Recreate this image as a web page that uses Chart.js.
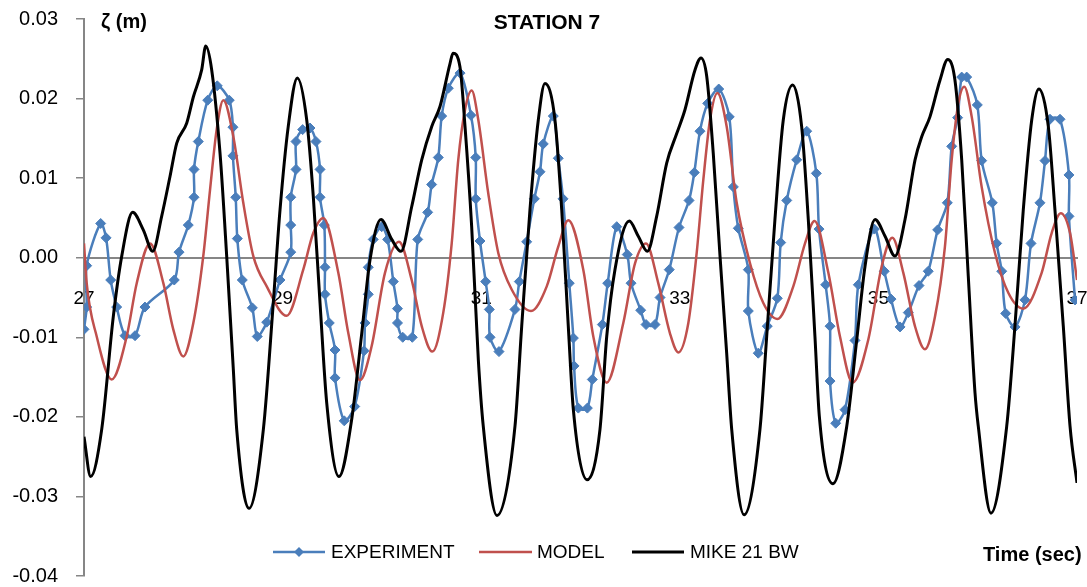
<!DOCTYPE html>
<html>
<head>
<meta charset="utf-8">
<title>STATION 7</title>
<script src="https://cdn.jsdelivr.net/npm/chart.js@4.4.1/dist/chart.umd.min.js"></script>
<style>
  html, body { margin: 0; padding: 0; background: #fff; }
  #wrap { width: 1087px; height: 587px; }
</style>
</head>
<body>
<div id="wrap"><canvas id="chart" width="1087" height="587"></canvas></div>
<script>
const chartTitle = 'STATION 7';
const yTitle = 'ζ (m)';
const xTitle = 'Time (sec)';
const seriesNames = ['EXPERIMENT', 'MODEL', 'MIKE 21 BW'];

const xTicks = [27, 29, 31, 33, 35, 37];
const yTicks = [-0.04, -0.03, -0.02, -0.01, 0, 0.01, 0.02, 0.03];

// measured surface elevation (gauge record)
const expTime = [
  27.000, 27.027, 27.027, 27.168, 27.222, 27.269, 27.329, 27.413, 27.514, 27.614,
  27.909, 27.957, 28.050, 28.108, 28.108, 28.151, 28.246, 28.342, 28.463, 28.500,
  28.500, 28.528, 28.544, 28.594, 28.695, 28.745, 28.840, 28.974, 29.082, 29.082,
  29.082, 29.135, 29.135, 29.202, 29.276, 29.336, 29.377, 29.377, 29.420, 29.427,
  29.427, 29.470, 29.528, 29.528, 29.621, 29.726, 29.820, 29.830, 29.863, 29.863,
  29.913, 29.998, 30.058, 30.115, 30.157, 30.157, 30.210, 30.306, 30.361, 30.461,
  30.501, 30.568, 30.602, 30.669, 30.787, 30.897, 30.945, 30.945, 30.988, 31.045,
  31.082, 31.089, 31.179, 31.340, 31.384, 31.458, 31.535, 31.592, 31.625, 31.726,
  31.776, 31.824, 31.887, 31.928, 31.935, 31.978, 32.069, 32.119, 32.220, 32.274,
  32.365, 32.471, 32.509, 32.606, 32.660, 32.750, 32.801, 32.894, 32.992, 33.093,
  33.146, 33.203, 33.281, 33.392, 33.498, 33.539, 33.589, 33.690, 33.690, 33.790,
  33.881, 33.982, 34.016, 34.077, 34.177, 34.278, 34.375, 34.402, 34.469, 34.513,
  34.513, 34.570, 34.664, 34.764, 34.798, 34.959, 35.059, 35.127, 35.218, 35.301,
  35.409, 35.502, 35.597, 35.694, 35.738, 35.798, 35.839, 35.889, 35.996, 36.040,
  36.147, 36.191, 36.242, 36.282, 36.376, 36.476, 36.537, 36.627, 36.678, 36.728,
  36.829, 36.919, 36.919, 36.980
];
const expElev = [
  -0.0090, -0.0062, -0.0010, 0.0043, 0.0025, -0.0028, -0.0062, -0.0098, -0.0098, -0.0062,
  -0.0028, 0.0007, 0.0041, 0.0076, 0.0111, 0.0146, 0.0198, 0.0216, 0.0198, 0.0164,
  0.0128, 0.0076, 0.0024, -0.0028, -0.0063, -0.0099, -0.0081, -0.0028, 0.0007, 0.0041,
  0.0076, 0.0111, 0.0146, 0.0161, 0.0163, 0.0146, 0.0111, 0.0076, 0.0041, -0.0012,
  -0.0046, -0.0082, -0.0116, -0.0151, -0.0205, -0.0187, -0.0117, -0.0082, -0.0046, -0.0012,
  0.0023, 0.0039, 0.0023, -0.0030, -0.0064, -0.0082, -0.0100, -0.0100, 0.0023, 0.0057,
  0.0092, 0.0126, 0.0178, 0.0213, 0.0232, 0.0179, 0.0126, 0.0074, 0.0021, -0.0030,
  -0.0065, -0.0100, -0.0118, -0.0065, -0.0030, 0.0020, 0.0074, 0.0108, 0.0143, 0.0178,
  0.0125, 0.0074, -0.0032, -0.0101, -0.0136, -0.0189, -0.0189, -0.0153, -0.0084, -0.0032,
  0.0039, 0.0004, -0.0032, -0.0066, -0.0084, -0.0084, -0.0050, -0.0015, 0.0038, 0.0072,
  0.0107, 0.0159, 0.0194, 0.0212, 0.0177, 0.0089, 0.0037, -0.0015, -0.0067, -0.0120,
  -0.0086, -0.0051, 0.0019, 0.0072, 0.0123, 0.0159, 0.0106, 0.0036, -0.0034, -0.0086,
  -0.0155, -0.0208, -0.0191, -0.0104, -0.0034, 0.0036, -0.0017, -0.0052, -0.0087, -0.0069,
  -0.0035, -0.0017, 0.0035, 0.0069, 0.0140, 0.0176, 0.0227, 0.0227, 0.0192, 0.0122,
  0.0069, 0.0018, -0.0017, -0.0070, -0.0087, -0.0053, 0.0018, 0.0069, 0.0122, 0.0174,
  0.0174, 0.0104, 0.0052, -0.0053
];

// numerical model
const modelTime = [
  27.000, 27.027, 27.128, 27.279, 27.430, 27.531, 27.665, 27.799, 27.899, 28.000,
  28.101, 28.201, 28.269, 28.336, 28.403, 28.504, 28.604, 28.705, 28.840, 29.041,
  29.208, 29.309, 29.410, 29.561, 29.662, 29.779, 29.897, 30.031, 30.172, 30.300,
  30.401, 30.508, 30.618, 30.703, 30.769, 30.837, 30.904, 30.971, 31.071, 31.172,
  31.307, 31.501, 31.660, 31.776, 31.877, 32.028, 32.129, 32.264, 32.431, 32.549,
  32.660, 32.783, 32.901, 32.985, 33.086, 33.170, 33.237, 33.304, 33.378, 33.472,
  33.573, 33.707, 33.841, 33.982, 34.143, 34.261, 34.357, 34.496, 34.613, 34.741,
  34.898, 35.033, 35.140, 35.251, 35.368, 35.469, 35.570, 35.670, 35.738, 35.805,
  35.865, 35.940, 36.040, 36.174, 36.308, 36.459, 36.644, 36.745, 36.836, 36.930,
  37.000
];
const modelElev = [
  0.0018, -0.0032, -0.0099, -0.0153, -0.0099, -0.0032, 0.0018, -0.0032, -0.0090, -0.0124,
  -0.0082, 0.0002, 0.0085, 0.0161, 0.0198, 0.0152, 0.0069, 0.0002, -0.0036, -0.0073,
  -0.0015, 0.0031, 0.0050, -0.0019, -0.0095, -0.0154, -0.0111, -0.0019, 0.0020, -0.0028,
  -0.0086, -0.0118, -0.0069, 0.0018, 0.0123, 0.0186, 0.0210, 0.0173, 0.0081, 0.0006,
  -0.0040, -0.0067, -0.0036, 0.0014, 0.0047, -0.0015, -0.0099, -0.0157, -0.0082, -0.0007,
  0.0018, -0.0032, -0.0095, -0.0119, -0.0082, 0.0006, 0.0098, 0.0173, 0.0207, 0.0165,
  0.0069, -0.0007, -0.0057, -0.0077, -0.0036, 0.0018, 0.0046, -0.0019, -0.0099, -0.0157,
  -0.0103, -0.0011, 0.0025, -0.0019, -0.0086, -0.0115, -0.0074, 0.0014, 0.0123, 0.0194,
  0.0215, 0.0177, 0.0089, 0.0006, -0.0044, -0.0064, -0.0019, 0.0031, 0.0056, 0.0031,
  -0.0028
];

// MIKE 21 BW run
const mikeTime = [
  27.000, 27.067, 27.178, 27.295, 27.380, 27.490, 27.597, 27.692, 27.782, 27.866,
  27.934, 28.034, 28.101, 28.185, 28.226, 28.286, 28.370, 28.437, 28.504, 28.538,
  28.662, 28.806, 28.906, 28.974, 29.057, 29.148, 29.243, 29.309, 29.377, 29.444,
  29.568, 29.696, 29.797, 29.880, 29.991, 30.099, 30.192, 30.300, 30.401, 30.502,
  30.585, 30.686, 30.716, 30.786, 30.837, 30.904, 30.971, 31.021, 31.159, 31.340,
  31.408, 31.491, 31.575, 31.642, 31.743, 31.811, 31.877, 31.928, 32.065, 32.196,
  32.264, 32.347, 32.491, 32.582, 32.673, 32.767, 32.868, 32.969, 33.052, 33.153,
  33.213, 33.271, 33.337, 33.405, 33.472, 33.523, 33.647, 33.807, 33.875, 33.958,
  34.042, 34.137, 34.227, 34.294, 34.361, 34.405, 34.543, 34.681, 34.782, 34.865,
  34.966, 35.067, 35.167, 35.268, 35.369, 35.436, 35.519, 35.620, 35.698, 35.771,
  35.839, 35.905, 35.973, 36.006, 36.134, 36.292, 36.375, 36.459, 36.544, 36.617,
  36.711, 36.778, 36.862, 36.930, 37.000
];
const mikeElev = [
  -0.0225, -0.0275, -0.0216, -0.0074, 0.0002, 0.0057, 0.0035, 0.0008, 0.0052, 0.0102,
  0.0144, 0.0169, 0.0202, 0.0236, 0.0266, 0.0236, 0.0131, 0.0002, -0.0141, -0.0216,
  -0.0315, -0.0216, -0.0057, 0.0060, 0.0165, 0.0226, 0.0173, 0.0077, -0.0057, -0.0182,
  -0.0275, -0.0203, -0.0095, -0.0003, 0.0048, 0.0023, 0.0008, 0.0064, 0.0123, 0.0165,
  0.0190, 0.0244, 0.0257, 0.0240, 0.0165, 0.0039, -0.0128, -0.0212, -0.0324, -0.0212,
  -0.0086, 0.0060, 0.0173, 0.0219, 0.0173, 0.0060, -0.0086, -0.0191, -0.0279, -0.0216,
  -0.0099, -0.0015, 0.0046, 0.0027, 0.0008, 0.0052, 0.0119, 0.0156, 0.0186, 0.0236,
  0.0251, 0.0228, 0.0131, 0.0002, -0.0120, -0.0216, -0.0323, -0.0216, -0.0099, 0.0048,
  0.0173, 0.0217, 0.0165, 0.0048, -0.0099, -0.0199, -0.0284, -0.0212, -0.0103, -0.0011,
  0.0048, 0.0027, 0.0002, 0.0048, 0.0123, 0.0152, 0.0177, 0.0223, 0.0249, 0.0223,
  0.0123, -0.0023, -0.0170, -0.0212, -0.0321, -0.0212, -0.0086, 0.0060, 0.0173, 0.0212,
  0.0165, 0.0060, -0.0086, -0.0212, -0.0283
];

const toPoints = (xs, ys) => xs.map((x, i) => ({ x: x, y: ys[i] }));

const FONT = '"Liberation Sans", Arial, sans-serif';
const AXIS_GREY = '#868686';

Chart.defaults.font.family = FONT;
Chart.defaults.color = '#000';

// titles and the in-plot legend
const overlay = {
  id: 'overlay',
  afterDraw(chart) {
    const ctx = chart.ctx;
    ctx.save();
    ctx.fillStyle = '#000';
    ctx.textBaseline = 'middle';

    ctx.font = 'bold 21px ' + FONT;
    ctx.textAlign = 'center';
    ctx.fillText(chartTitle, 547, 23);

    ctx.font = 'bold 20px ' + FONT;
    ctx.textAlign = 'left';
    ctx.fillText(yTitle, 101, 22);
    ctx.fillText(xTitle, 983, 555);

    // legend: [line start, line end, text x]
    const slots = [[273, 325, 331], [479, 532, 537], [632, 684, 690]];
    const ly = 552;
    ctx.font = '19px ' + FONT;
    chart.data.datasets.forEach((ds, i) => {
      const [x0, x1, tx] = slots[i];
      ctx.strokeStyle = ds.borderColor;
      ctx.lineWidth = ds.borderWidth;
      ctx.beginPath();
      ctx.moveTo(x0, ly);
      ctx.lineTo(x1, ly);
      ctx.stroke();
      if (ds.pointRadius > 0) {
        const r = ds.pointRadius;
        const cx = (x0 + x1) / 2;
        ctx.fillStyle = ds.pointBackgroundColor;
        ctx.beginPath();
        ctx.moveTo(cx, ly - r);
        ctx.lineTo(cx + r, ly);
        ctx.lineTo(cx, ly + r);
        ctx.lineTo(cx - r, ly);
        ctx.closePath();
        ctx.fill();
      }
      ctx.fillStyle = '#000';
      ctx.fillText(ds.label, tx, ly + 1);
    });
    ctx.restore();
  }
};

new Chart(document.getElementById('chart'), {
  type: 'line',
  data: {
    datasets: [
      {
        label: seriesNames[0],
        data: toPoints(expTime, expElev),
        borderColor: '#4A7EBB',
        backgroundColor: '#4A7EBB',
        pointBackgroundColor: '#4A7EBB',
        pointBorderColor: '#4A7EBB',
        borderWidth: 2.5,
        pointStyle: 'rectRot',
        pointRadius: 5,
        pointBorderWidth: 1,
        tension: 0.3,
        fill: false,
        order: 3
      },
      {
        label: seriesNames[1],
        data: toPoints(modelTime, modelElev),
        borderColor: '#C0504D',
        backgroundColor: '#C0504D',
        borderWidth: 2.5,
        pointRadius: 0,
        cubicInterpolationMode: 'monotone',
        fill: false,
        order: 2
      },
      {
        label: seriesNames[2],
        data: toPoints(mikeTime, mikeElev),
        borderColor: '#000000',
        backgroundColor: '#000000',
        borderWidth: 3,
        pointRadius: 0,
        cubicInterpolationMode: 'monotone',
        fill: false,
        order: 1
      }
    ]
  },
  options: {
    responsive: false,
    devicePixelRatio: 1,
    animation: false,
    events: [],
    layout: { padding: { left: 0, right: 10, top: 19, bottom: 11 } },
    plugins: {
      legend: { display: false },
      title: { display: false },
      tooltip: { enabled: false }
    },
    scales: {
      x: {
        type: 'linear',
        position: { y: 0 },
        min: 27,
        max: 37,
        afterBuildTicks: (scale) => { scale.ticks = xTicks.map((v) => ({ value: v })); },
        // labels sit on the zero line; keep them from shrinking the plot
        afterFit: (scale) => { scale.paddingLeft = 0; scale.paddingRight = 0; },
        grid: { display: false, drawTicks: false },
        border: { display: true, color: AXIS_GREY, width: 2 },
        ticks: {
          padding: 30,
          maxRotation: 0,
          font: { size: 19 },
          color: '#000',
          callback: (v) => String(v)
        }
      },
      y: {
        type: 'linear',
        position: 'left',
        min: -0.04,
        max: 0.03,
        afterBuildTicks: (scale) => { scale.ticks = yTicks.map((v) => ({ value: v })); },
        afterFit: (scale) => {
          scale.width = 84;
          scale.paddingTop = 0;
          scale.paddingBottom = 0;
        },
        grid: {
          display: true,
          drawOnChartArea: false,
          drawTicks: true,
          tickLength: 8,
          color: AXIS_GREY,
          lineWidth: 1.5
        },
        border: { display: true, color: AXIS_GREY, width: 2 },
        ticks: {
          padding: 18,
          font: { size: 20 },
          color: '#000',
          callback: (v) => (Math.abs(v) < 1e-9 ? 0 : v).toFixed(2)
        }
      }
    }
  },
  plugins: [overlay]
});
</script>
</body>
</html>
